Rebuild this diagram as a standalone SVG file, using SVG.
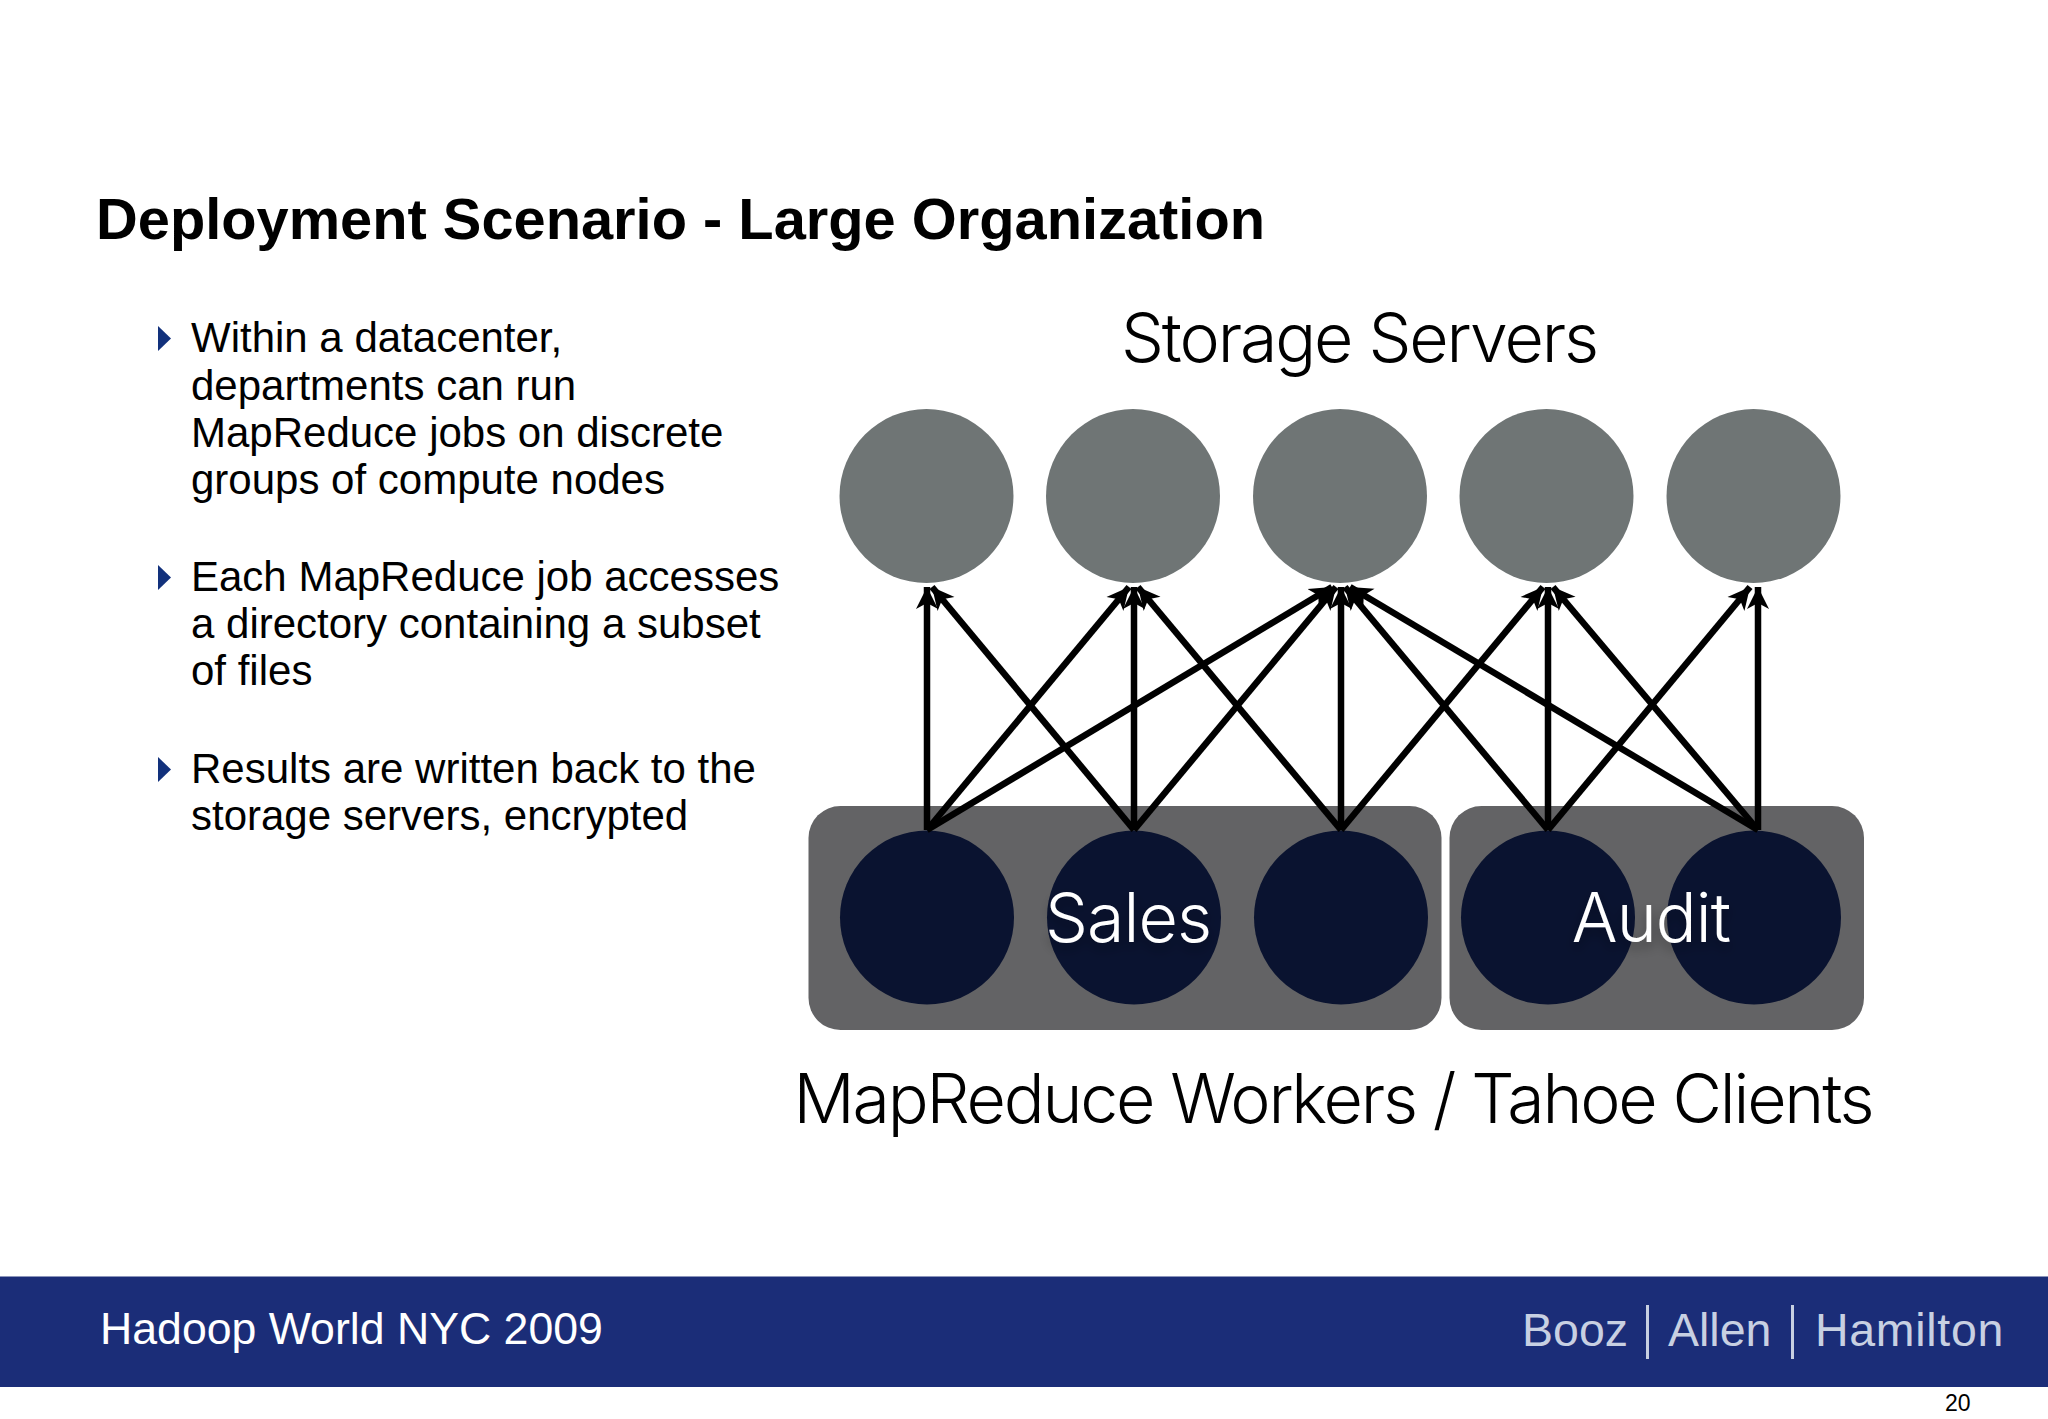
<svg xmlns="http://www.w3.org/2000/svg" width="2048" height="1419" viewBox="0 0 2048 1419">
<style>
text{font-family:"Liberation Sans",Arial,sans-serif;fill:#000}
.title{font-size:57.8px;font-weight:700}
.body{font-size:42px}
.bul{fill:#12317c}
.lt{font-family:Inter,"Liberation Sans",sans-serif;font-weight:300;font-size:68px;letter-spacing:-2.1px}
.in{letter-spacing:-0.9px;fill:#fff}
.top{fill:#6f7575}
.bot{fill:#0a1330}
.grp{fill:#636365}
.edge{stroke:#000;stroke-width:6.500;fill:none;marker-end:url(#a)}
.logo{fill:#c8d0e2;font-size:46.5px}
</style>
<defs>
<marker id="a" markerUnits="userSpaceOnUse" markerWidth="24" markerHeight="24" refX="22" refY="11" orient="auto" viewBox="0 0 24 22"><path d="M0 0L22 11L0 22L6 11Z" fill="#000"/></marker>
<filter id="s" x="-20%" y="-20%" width="140%" height="160%"><feDropShadow dx="0" dy="6" stdDeviation="6" flood-color="#000" flood-opacity=".35"/></filter>
</defs>
<rect width="2048" height="1419" fill="#fff"/>
<text class="title" x="96" y="239">Deployment Scenario - Large Organization</text>
<g id="bullets">
<path class="bul" d="M158 326L171 338.500L158 351Z"/>
<text class="body" x="191" y="352">Within a datacenter,</text>
<text class="body" x="191" y="400">departments can run</text>
<text class="body" x="191" y="447">MapReduce jobs on discrete</text>
<text class="body" x="191" y="494">groups of compute nodes</text>
<path class="bul" d="M158 565L171 577.500L158 590Z"/>
<text class="body" x="191" y="591">Each MapReduce job accesses</text>
<text class="body" x="191" y="638">a directory containing a subset</text>
<text class="body" x="191" y="685">of files</text>
<path class="bul" d="M158 757L171 769.500L158 782Z"/>
<text class="body" x="191" y="783">Results are written back to the</text>
<text class="body" x="191" y="830">storage servers, encrypted</text>
</g>
<text id="label-storage" class="lt" x="1359" y="362" text-anchor="middle">Storage Servers</text>
<g id="storage-1"><circle class="top" cx="926.500" cy="496" r="87"/></g>
<g id="storage-2"><circle class="top" cx="1133" cy="496" r="87"/></g>
<g id="storage-3"><circle class="top" cx="1340" cy="496" r="87"/></g>
<g id="storage-4"><circle class="top" cx="1546.500" cy="496" r="87"/></g>
<g id="storage-5"><circle class="top" cx="1753.500" cy="496" r="87"/></g>
<g id="group-sales"><rect class="grp" x="808.500" y="806" width="633" height="224" rx="32"/></g>
<g id="group-audit"><rect class="grp" x="1449.500" y="806" width="414.500" height="224" rx="32"/></g>
<g id="worker-1"><circle class="bot" cx="927" cy="917.500" r="87"/></g>
<g id="worker-2"><circle class="bot" cx="1134" cy="917.500" r="87"/></g>
<g id="worker-3"><circle class="bot" cx="1341" cy="917.500" r="87"/></g>
<g id="worker-4"><circle class="bot" cx="1548" cy="917.500" r="87"/></g>
<g id="worker-5"><circle class="bot" cx="1754" cy="917.500" r="87"/></g>
<g id="connectors">
<line class="edge" x1="927" y1="830" x2="927" y2="587"/>
<line class="edge" x1="927" y1="830" x2="1129" y2="587"/>
<line class="edge" x1="927" y1="830" x2="1332" y2="587"/>
<line class="edge" x1="1134" y1="830" x2="932" y2="587"/>
<line class="edge" x1="1134" y1="830" x2="1134" y2="587"/>
<line class="edge" x1="1134" y1="830" x2="1336" y2="587"/>
<line class="edge" x1="1341" y1="830" x2="1138" y2="587"/>
<line class="edge" x1="1341" y1="830" x2="1341" y2="587"/>
<line class="edge" x1="1341" y1="830" x2="1543" y2="587"/>
<line class="edge" x1="1548" y1="830" x2="1345" y2="587"/>
<line class="edge" x1="1548" y1="830" x2="1548" y2="587"/>
<line class="edge" x1="1548" y1="830" x2="1750" y2="587"/>
<line class="edge" x1="1758" y1="830" x2="1350" y2="587"/>
<line class="edge" x1="1758" y1="830" x2="1553" y2="587"/>
<line class="edge" x1="1758" y1="830" x2="1758" y2="587"/>
</g>
<text class="lt in" style="fill:#fff;letter-spacing:-0.9px" filter="url(#s)" x="1128" y="942" text-anchor="middle">Sales</text>
<text class="lt in" style="fill:#fff;letter-spacing:-0.9px" filter="url(#s)" x="1651" y="942" text-anchor="middle">Audit</text>
<text id="label-workers" class="lt" style="letter-spacing:-2.2px" x="1333" y="1123" text-anchor="middle">MapReduce Workers / Tahoe Clients</text>
<g id="footer">
<rect y="1276.500" width="2048" height="110.500" fill="#1b2d78"/>
<text x="100" y="1344" font-size="44.650" style="fill:#fff">Hadoop World NYC 2009</text>
<text class="logo" x="1522" y="1346">Booz</text>
<rect x="1646" y="1305" width="3" height="54" fill="#c8d0e2"/>
<text class="logo" x="1668" y="1346">Allen</text>
<rect x="1791" y="1305" width="3" height="54" fill="#c8d0e2"/>
<text class="logo" style="letter-spacing:.7px" x="1815" y="1346">Hamilton</text>
<text x="1945" y="1411" font-size="23">20</text>
</g>
</svg>
